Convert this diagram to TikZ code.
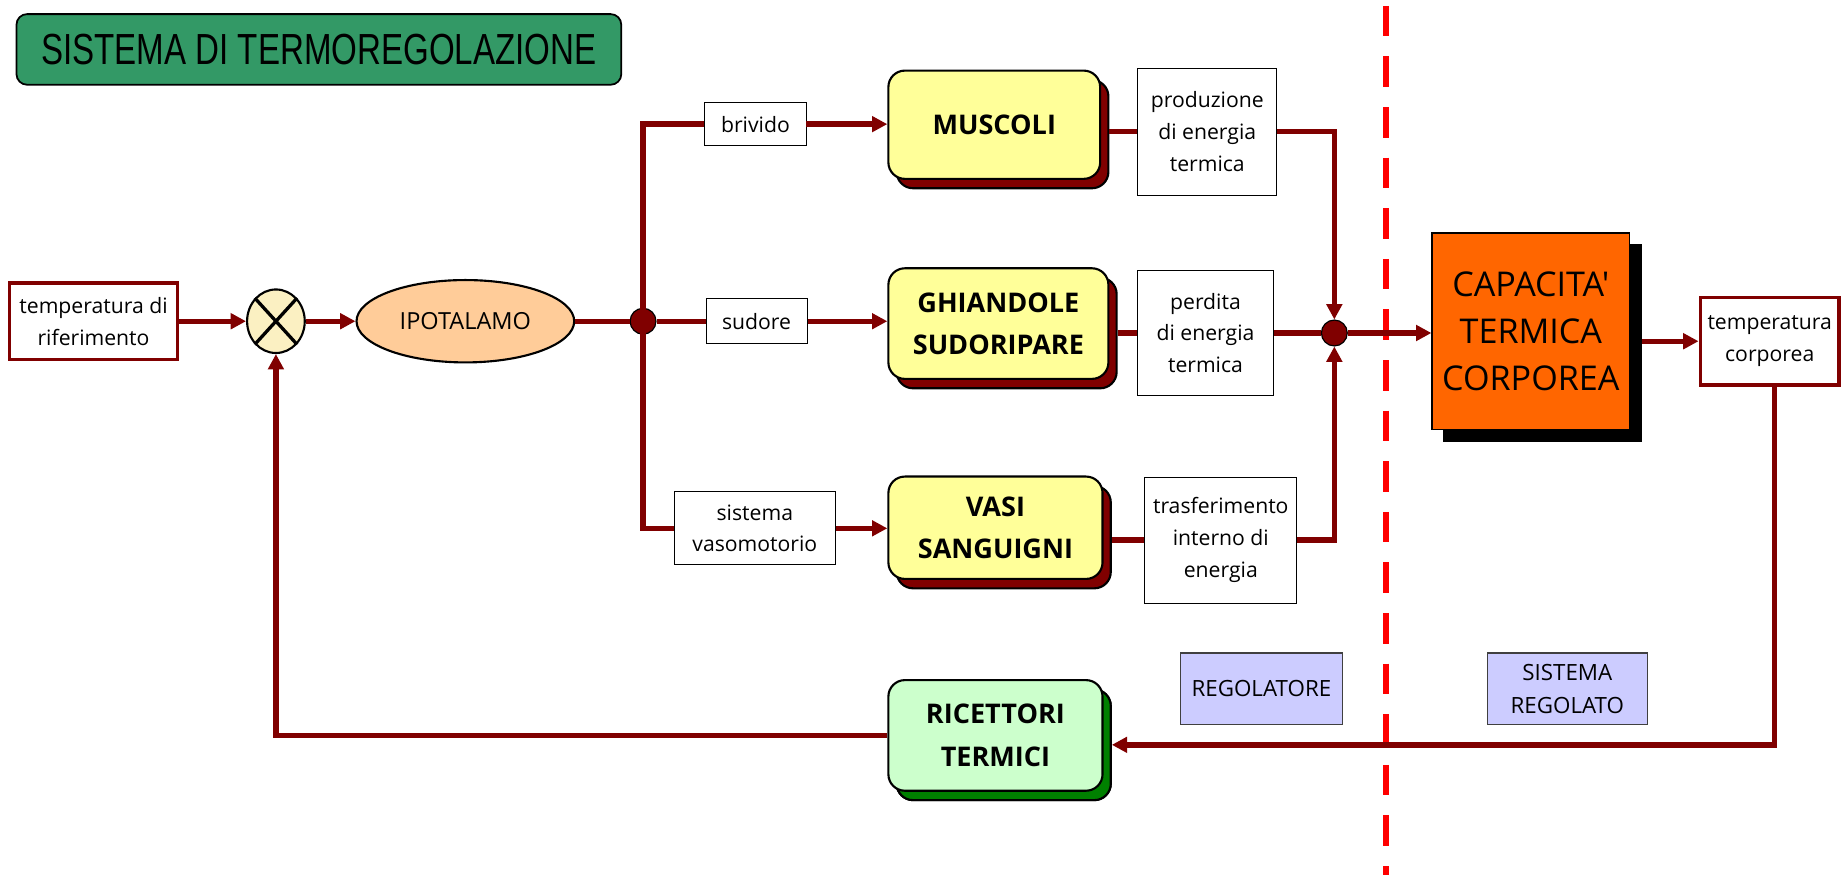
\documentclass[tikz,border=0pt]{standalone}
\usepackage{fontspec}
\setmainfont{Open Sans}
\newfontfamily\titlefont{Liberation Sans}
\newfontfamily\capfont{Open Sans}
\usetikzlibrary{arrows.meta,shadows,shapes.geometric}
\definecolor{dred}{HTML}{800000}
\definecolor{yelfill}{HTML}{FFFF99}
\definecolor{grnfill}{HTML}{CCFFCC}
\definecolor{grnshadow}{HTML}{008000}
\definecolor{peach}{HTML}{FFCC99}
\definecolor{orangefill}{HTML}{FF6600}
\definecolor{bluefill}{HTML}{CCCCFF}
\definecolor{titlefill}{HTML}{339966}
\definecolor{sumfill}{HTML}{FBF0C2}
\definecolor{dashred}{HTML}{FF0000}
\tikzset{
  conn/.style={draw=dred, line width=4.6pt},
  arr/.style={conn, -{Triangle[length=13pt,width=13pt]}},
  lbl/.style={draw=black, line width=0.8pt, fill=white, align=center, inner sep=0pt,
    font=\fontsize{18}{27}\selectfont},
  redlbl/.style={lbl, draw=dred, line width=3pt},
  yel/.style={draw=black, line width=1.8pt, rounded corners=14pt, fill=yelfill, align=center,
    inner sep=0pt, font=\fontsize{23}{36}\selectfont\bfseries,
    copy shadow={shadow xshift=7pt, shadow yshift=-8pt, fill=dred, draw=black, line width=1.8pt}},
  grn/.style={yel, fill=grnfill,
    copy shadow={shadow xshift=7pt, shadow yshift=-8pt, fill=grnshadow, draw=black, line width=1.8pt}},
  bluebox/.style={draw=black!75, line width=1pt, fill=bluefill, align=center, inner sep=0pt,
    font=\fontsize{19}{28}\selectfont},
  dotnode/.style={circle, fill=dred, draw=black, line width=1pt, inner sep=0pt, minimum size=22pt},
}
\begin{document}
\begin{tikzpicture}[x=1pt,y=-1pt]
\useasboundingbox (0,0) rectangle (1568,744);
% boundary line
\coordinate (dtop) at (1178,5);
\coordinate (dbot) at (1178,744);
\draw[dashred, line width=5.5pt, dash pattern=on 26pt off 17pt] (dtop) -- (dbot);

% title
\node[draw=black, line width=1.5pt, rounded corners=9pt, fill=titlefill, minimum width=514pt,
  minimum height=60pt, inner sep=0pt] (title) at (271,42)
  {\titlefont\fontsize{37}{40}\selectfont\scalebox{0.76}[1]{SISTEMA DI TERMOREGOLAZIONE}};

% nodes
\node[redlbl, minimum width=143pt, minimum height=65pt] (ref) at (79.5,273) {temperatura di\\riferimento};
\node[ellipse, draw=black, line width=1.8pt, fill=sumfill, minimum width=49pt, minimum height=54pt, inner sep=0pt] (sum) at (234.5,273) {};
\draw[line width=2.8pt, black] (sum.north east) -- (sum.south west) (sum.north west) -- (sum.south east);
\node[ellipse, draw=black, line width=1.8pt, fill=peach, minimum width=185pt, minimum height=70pt, inner sep=0pt,
  font=\fontsize{20}{24}\selectfont] (ipo) at (395.5,273) {IPOTALAMO};
\node[dotnode] (dot1) at (546.5,273) {};

\node[lbl, minimum width=86pt, minimum height=37pt] (briv) at (642,105.5) {brivido};
\node[yel, minimum width=180pt, minimum height=92pt] (musc) at (845,106) {MUSCOLI};
\node[lbl, minimum width=118pt, minimum height=108pt] (prod) at (1026,112) {produzione\\di energia\\termica};

\node[lbl, minimum width=86pt, minimum height=38pt] (sud) at (643,273) {sudore};
\node[yel, minimum width=187pt, minimum height=94pt] (ghi) at (848.5,275) {GHIANDOLE\\SUDORIPARE};
\node[lbl, minimum width=115pt, minimum height=107pt] (perd) at (1024.5,283) {perdita\\di energia\\termica};

\node[lbl, minimum width=137pt, minimum height=62pt] (vaso) at (641.5,449) {sistema\\vasomotorio};
\node[yel, minimum width=182pt, minimum height=87pt] (vasi) at (846,448.5) {VASI\\SANGUIGNI};
\node[lbl, minimum width=129pt, minimum height=107pt] (tras) at (1037.5,459) {trasferimento\\interno di\\energia};

\node[dotnode] (dot2) at (1134,283) {};

\node[draw=black, line width=1pt, fill=orangefill, minimum width=168pt, minimum height=167pt, inner sep=0pt,
  align=center, font=\capfont\fontsize{29}{40}\selectfont,
  copy shadow={shadow xshift=10pt, shadow yshift=-10pt, fill=black, draw=black}] (cap) at (1301,281.5)
  {CAPACITA'\\TERMICA\\CORPOREA};
\node[redlbl, minimum width=118pt, minimum height=74pt] (tc) at (1504,290) {temperatura\\corporea};

\node[grn, minimum width=182pt, minimum height=94pt] (ric) at (846,625) {RICETTORI\\TERMICI};

\node[bluebox, minimum width=138pt, minimum height=61pt] (regol) at (1072,585.5) {REGOLATORE};
\node[bluebox, minimum width=136pt, minimum height=61pt] (sisreg) at (1332,585.5) {SISTEMA\\REGOLATO};

% connectors
\draw[arr] (ref.east) -- (sum.west);
\draw[arr] (sum.east) -- (ipo.west);
\draw[conn] (ipo.east) -- (dot1.west);
\draw[conn] (dot1.center) |- (briv.west);
\draw[conn] (dot1.center) |- (vaso.west);
\draw[conn] (dot1.east) -- (sud.west);
\draw[arr] (briv.east) -- (musc.west |- briv.east);
\draw[arr] (sud.east) -- (ghi.west |- sud.east);
\draw[arr] (vaso.east) -- (vasi.west |- vaso.east);
\draw[conn] ([xshift=7pt]musc.east |- prod.west) -- (prod.west);
\draw[conn] ([xshift=7pt]ghi.east |- perd.west) -- (perd.west);
\draw[conn] ([xshift=7pt]vasi.east |- tras.west) -- (tras.west);
\draw[arr] (prod.east) -| (dot2.north);
\draw[conn] (perd.east) -- (dot2.west);
\draw[arr] (tras.east) -| (dot2.south);
\draw[arr] (dot2.east) -- (cap.west |- dot2.east);
\draw[arr] ([xshift=10pt]cap.east |- tc.west) -- (tc.west);
\draw[arr] ([xshift=4pt]tc.south) |- ([xshift=7pt,yshift=-8pt]ric.east);
\draw[arr] (ric.west) -| (sum.south);
\end{tikzpicture}
\end{document}
